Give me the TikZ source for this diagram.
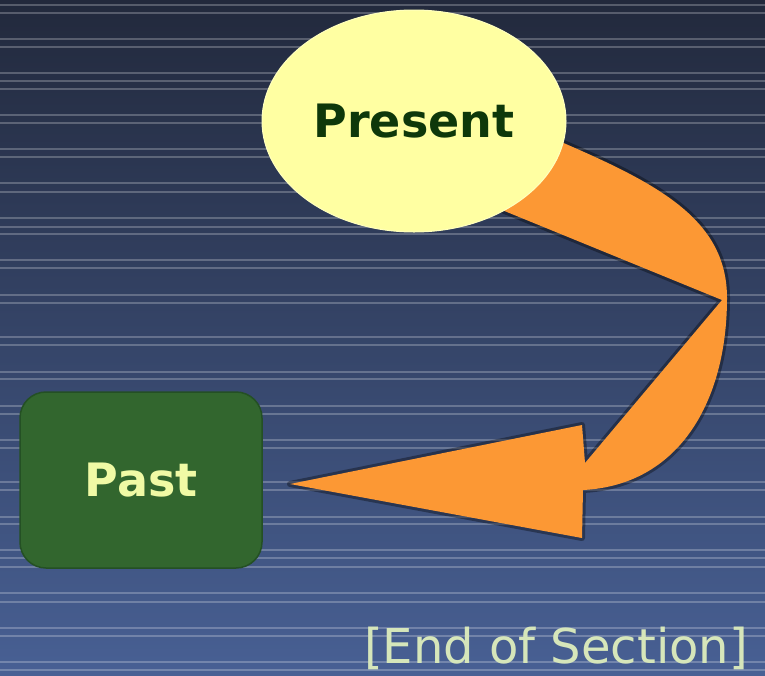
\documentclass[tikz,border=0pt]{standalone}
\usepackage{fontspec}
\setmainfont{DejaVu Sans}
\definecolor{bgtop}{RGB}{34,41,60}
\definecolor{bgbot}{RGB}{72,96,148}
\definecolor{ribbon}{RGB}{252,152,52}
\definecolor{paleyellow}{RGB}{255,255,162}
\definecolor{darkgreen}{RGB}{14,56,10}
\definecolor{boxgreen}{RGB}{50,102,46}
\definecolor{boxedge}{RGB}{36,80,36}
\definecolor{lighttext}{RGB}{240,250,165}
\definecolor{foottext}{RGB}{214,230,186}
\newcommand{\ribbonpath}{(480,201) -- (722,300) -- (585,463) -- (582,425) -- (290,484) -- (582,538) -- (583,490)
  .. controls (680,485) and (727,400) .. (727,298)
  .. controls (727,215) and (650,180) .. (545,135) -- cycle}
\begin{document}
\begin{tikzpicture}[x=1pt,y=-1pt,
  stripe/.style={draw=white,opacity=0.24,line width=2pt},
  timeoval/.style={ellipse,fill=paleyellow,draw=paleyellow!70!white,line width=1pt,
    minimum width=304pt,minimum height=222pt,inner sep=0pt,
    text=darkgreen,font=\bfseries\fontsize{46}{50}\selectfont},
  timebox/.style={rectangle,rounded corners=26pt,fill=boxgreen,draw=boxedge,line width=1.5pt,
    minimum width=242pt,minimum height=176pt,inner sep=0pt,
    text=lighttext,font=\bfseries\fontsize{46}{50}\selectfont},
  foot/.style={text=foottext,font=\fontsize{48}{52}\selectfont,inner sep=0pt}]
\usetikzlibrary{shapes.geometric}
\useasboundingbox (0,0) rectangle (765,675);
\begin{scope}
\clip (0,0) rectangle (765,675);
% backdrop with horizontal pinstripes
\shade[top color=bgtop,bottom color=bgbot] (0,0) rectangle (765,675);
\foreach \yy in {5,13,39,47,73,81,89,115,123,149,157,183,192,218,227,234,260,268,295,303,
  337,345,372,379,406,414,440,448,482,490,517,524,550,558,567,593,602,628,636,662,670}
  \draw[stripe] (0,\yy) -- (765,\yy);
% curved ribbon arrow from the present back to the past
\draw[black,opacity=0.35,line width=6pt,line join=round] \ribbonpath;
\fill[ribbon] \ribbonpath;
% nodes
\node[timeoval] (present) at (414,121) {Present};
\node[timebox] (past) at (141,480) {Past};
\node[foot,anchor=base] (endsec) at (556,663) {[End of Section]};
\end{scope}
\end{tikzpicture}
\end{document}
